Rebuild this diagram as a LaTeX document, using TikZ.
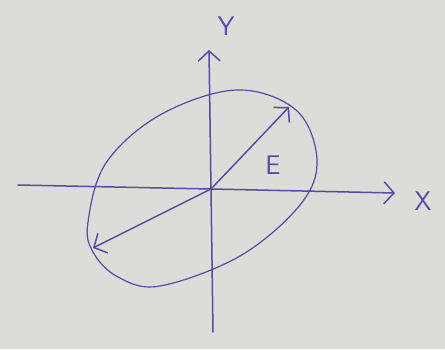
\documentclass[tikz,border=0pt]{standalone}
\usetikzlibrary{arrows.meta}
\usetikzlibrary{calc}
\tikzset{>=latex}
\definecolor{papercol}{RGB}{220,221,216}
\definecolor{inkcol}{RGB}{86,76,168}
\tikzstyle{ink}=[draw=inkcol,line width=1.5pt,line cap=round,line join=round]
\tikzstyle{axis}=[ink,-{Straight Barb[length=10pt,width=22pt,line width=1.5pt]}]
\tikzstyle{lbl}=[text=inkcol,font=\fontsize{27}{27}\sffamily,inner sep=0pt]

\begin{document}
\begin{tikzpicture}[x=1pt,y=-1pt]
  \def\W{445}   % picture width
  \def\H{349}   % picture height
  % paper
  \fill[papercol] (0,0) rectangle (\W,\H);
  \useasboundingbox (0,0) rectangle (\W,\H);

  % axes
  \coordinate (O) at (211,189);
  \coordinate (xl) at (18,185);
  \coordinate (xr) at (395,193);
  \coordinate (yb) at (213,332);
  \coordinate (yt) at (209,50);
  \draw[ink] (xl) -- (O);
  \draw[axis] (O) -- (xr);
  \draw[ink] (yb) -- (O);
  \draw[axis] (O) -- (yt);
  \node[lbl] (xlab) at (423,201) {X};
  \node[lbl] (ylab) at (226,26) {Y};

  % polarisation ellipse
  \draw[ink,line width=1.2pt]
    plot[smooth cycle,tension=0.6] coordinates {
      (88,222) (106,163) (160,115) (236,90) (296,110) (317,160)
      (300,205) (240,256) (160,286) (118,277) (93,252)};

  % field vector
  \coordinate (etip) at (289,107);
  \coordinate (wtip) at (93,248);
  \draw[axis] (O) -- (etip);
  \draw[axis] (O) -- (wtip);
  \node[lbl] (elab) at (273,165) {E};
\end{tikzpicture}
\end{document}
